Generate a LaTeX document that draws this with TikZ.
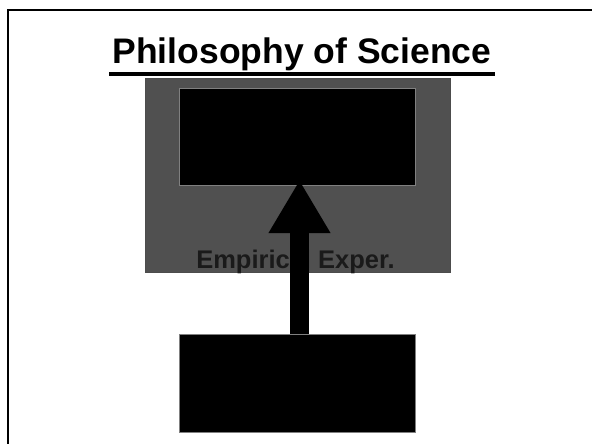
\documentclass[tikz,border=0pt]{standalone}
\usepackage{fontspec}
\setmainfont{Liberation Sans}
\usetikzlibrary{arrows.meta}
\definecolor{panelgray}{RGB}{80,80,80}
\definecolor{labelgray}{RGB}{26,26,26}

\begin{document}
\begin{tikzpicture}[
  x=1pt,y=-1pt,
  blackbox/.style={fill=black,draw=gray,line width=0.6pt,inner sep=0pt},
  panel/.style={fill=panelgray,draw=black!70,line width=0.6pt,inner sep=0pt},
  bigarrow/.style={line width=19pt,-{Triangle[width=58pt,length=53pt]}}
]
  \useasboundingbox (0,0) rectangle (592,444);
  % slide border (clipped at right and bottom)
  \draw[line width=2.2pt] (8,444) -- (8,10) -- (592,10);
  \node[font=\bfseries\fontsize{35.5}{40}\selectfont,anchor=base,inner sep=0pt] (title) at (302,64) {Philosophy of Science};
  \draw[line width=4pt] (109,74) -- (495,74);
  \node[panel,minimum width=305pt,minimum height=194pt,anchor=north west] (panel) at (145,78) {};
  \node[blackbox,minimum width=236pt,minimum height=97pt,anchor=north west] (theory) at (179,88) {};
  \node[blackbox,minimum width=236pt,minimum height=98pt,anchor=north west] (obs) at (179,334) {};
  \node[font=\bfseries\fontsize{25.5}{30}\selectfont,text=labelgray,anchor=base] (emp) at (295.5,268) {Empirical Exper.};
  \coordinate (tip) at (299.5,180);
  \draw[bigarrow] (obs.north -| tip) -- (tip);
\end{tikzpicture}
\end{document}
